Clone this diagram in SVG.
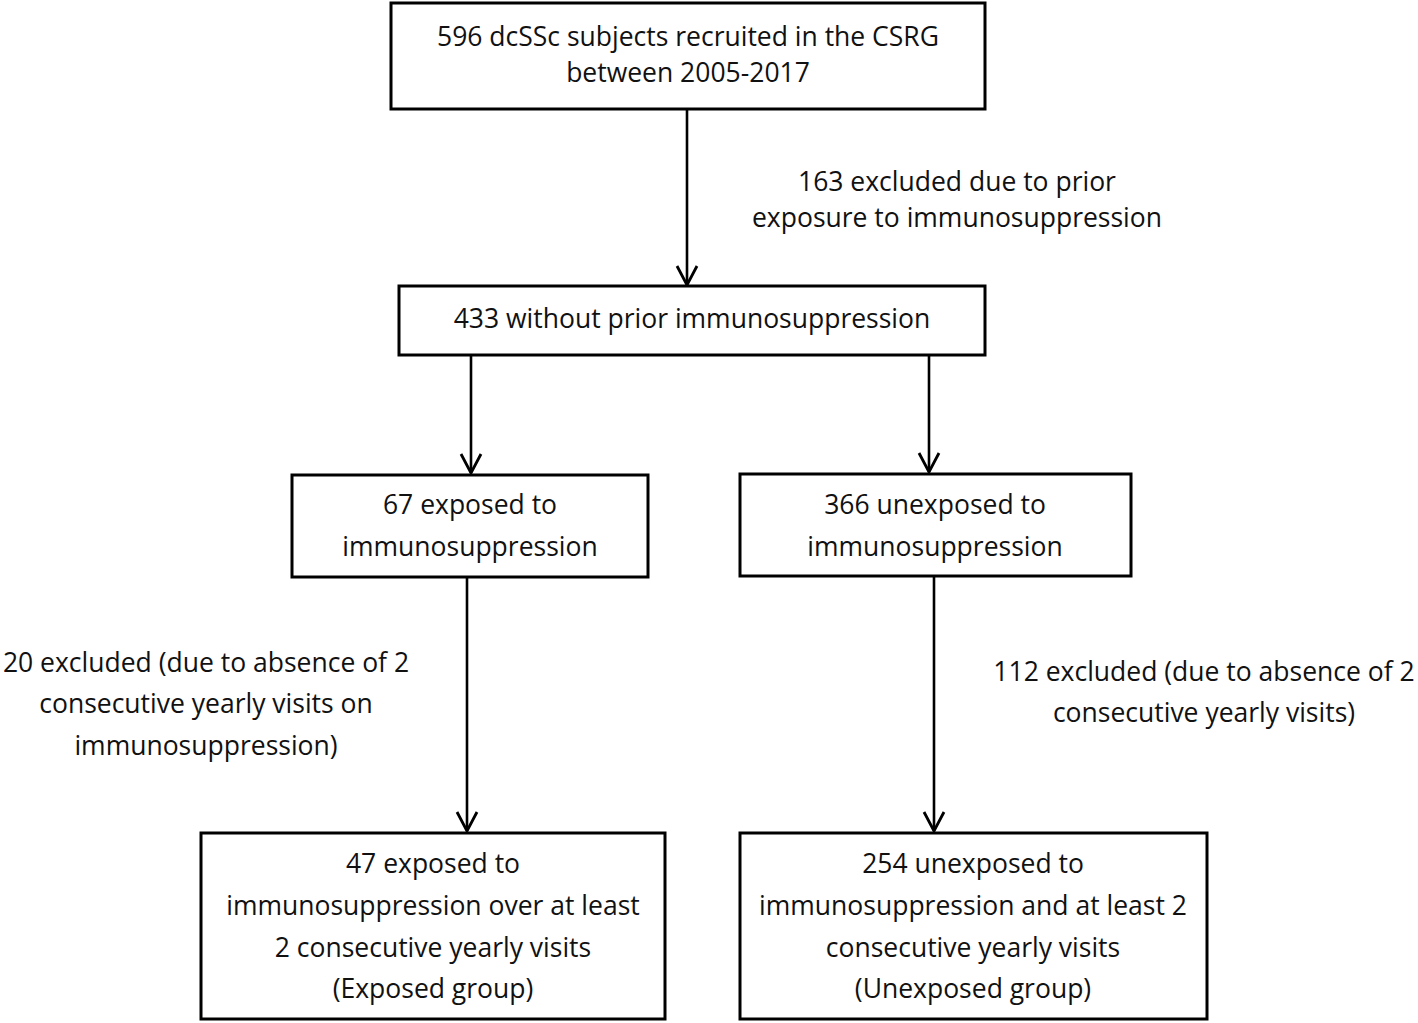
<svg xmlns="http://www.w3.org/2000/svg" width="1418" height="1023" viewBox="0 0 1418 1023">
<style>
.box{fill:#fff;stroke:#000;stroke-width:3}
.t{font-family:"Open Sans","Noto Sans",sans-serif;font-size:26.5px;fill:#111;text-anchor:middle}
.c{stroke:#000;stroke-width:2.6;fill:none}
</style>
<defs>
<marker id="ah" markerUnits="userSpaceOnUse" viewBox="-22 -13 24 26" markerWidth="24" markerHeight="26" refX="0" refY="0" orient="auto" overflow="visible">
<path d="M-19,-10 L0,0 L-19,10" fill="none" stroke="#000" stroke-width="2.8"/>
</marker>
</defs>
<rect width="1418" height="1023" fill="#fff"/>
<g id="connectors">
<line class="c" x1="687" y1="109" x2="687" y2="285" marker-end="url(#ah)"/>
<line class="c" x1="471" y1="355" x2="471" y2="473" marker-end="url(#ah)"/>
<line class="c" x1="929" y1="355" x2="929" y2="472" marker-end="url(#ah)"/>
<line class="c" x1="467" y1="577" x2="467" y2="831" marker-end="url(#ah)"/>
<line class="c" x1="934" y1="576" x2="934" y2="831" marker-end="url(#ah)"/>
</g>
<g id="n1">
<rect class="box" x="391" y="3" width="594" height="106"/>
<text class="t" x="688" y="46">596 dcSSc subjects recruited in the CSRG</text>
<text class="t" x="688" y="82">between 2005-2017</text>
</g>
<g id="excl1">
<text class="t" x="957" y="191">163 excluded due to prior</text>
<text class="t" x="957" y="227">exposure to immunosuppression</text>
</g>
<g id="n2">
<rect class="box" x="399" y="286" width="586" height="69"/>
<text class="t" x="692" y="328">433 without prior immunosuppression</text>
</g>
<g id="n3">
<rect class="box" x="292" y="475" width="356" height="102"/>
<text class="t" x="470" y="514">67 exposed to</text>
<text class="t" x="470" y="556">immunosuppression</text>
</g>
<g id="n4">
<rect class="box" x="740" y="474" width="391" height="102"/>
<text class="t" x="935" y="514">366 unexposed to</text>
<text class="t" x="935" y="556">immunosuppression</text>
</g>
<g id="excl2">
<text class="t" x="206" y="672">20 excluded (due to absence of 2</text>
<text class="t" x="206" y="713">consecutive yearly visits on</text>
<text class="t" x="206" y="755">immunosuppression)</text>
</g>
<g id="excl3">
<text class="t" x="1204" y="681">112 excluded (due to absence of 2</text>
<text class="t" x="1204" y="722">consecutive yearly visits)</text>
</g>
<g id="n5">
<rect class="box" x="201" y="833" width="464" height="186"/>
<text class="t" x="433" y="873">47 exposed to</text>
<text class="t" x="433" y="915">immunosuppression over at least</text>
<text class="t" x="433" y="957">2 consecutive yearly visits</text>
<text class="t" x="433" y="998">(Exposed group)</text>
</g>
<g id="n6">
<rect class="box" x="740" y="833" width="467" height="186"/>
<text class="t" x="973" y="873">254 unexposed to</text>
<text class="t" x="973" y="915">immunosuppression and at least 2</text>
<text class="t" x="973" y="957">consecutive yearly visits</text>
<text class="t" x="973" y="998">(Unexposed group)</text>
</g>
</svg>
